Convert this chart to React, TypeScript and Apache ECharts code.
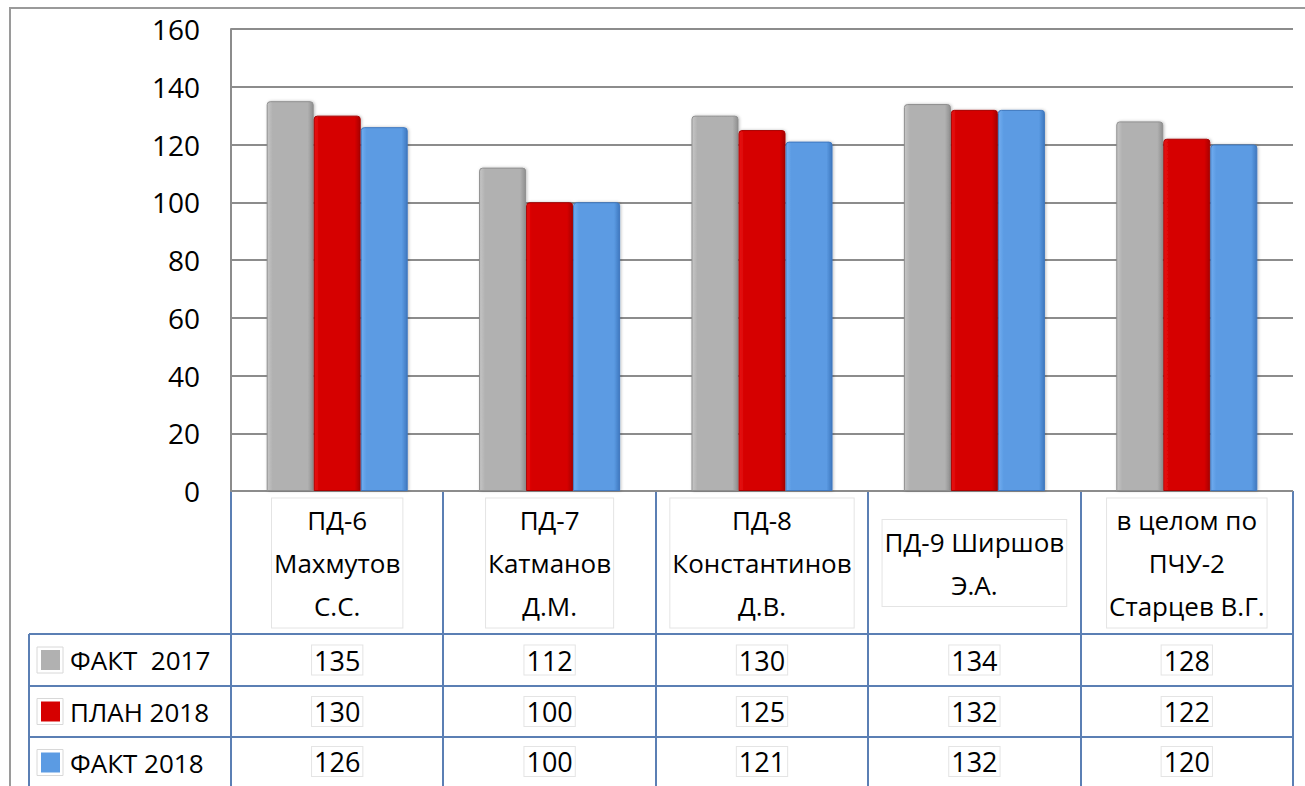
import React, { useEffect, useRef } from "react";
import * as echarts from "echarts";

const categories = [
  "ПД-6\nМахмутов\nС.С.",
  "ПД-7\nКатманов\nД.М.",
  "ПД-8\nКонстантинов\nД.В.",
  "ПД-9 Ширшов\nЭ.А.",
  "в целом по\nПЧУ-2\nСтарцев В.Г.",
];
const seriesNames = ["ФАКТ  2017", "ПЛАН 2018", "ФАКТ 2018"];
const fact2017 = [135, 112, 130, 134, 128];
const plan2018 = [130, 100, 125, 132, 122];
const fact2018 = [126, 100, 121, 132, 120];
const yTicks = { min: 0, max: 160, interval: 20 };

const FONT = "Open Sans";
const W = 1305;
const H = 786;
const L = 231;
const R = 1293;
const T = 29;
const B = 491;
const ROWS = [634, 686, 737, 790];
const TABLE_LEFT = 29;
const TABLE_COLOR = "#5b7fb4";

const seriesData = [fact2017, plan2018, fact2018];

const colors = [
  { a: "#c6c6c6", b: "#b1b1b1", c: "#8f8f8f" },
  { a: "#ea1414", b: "#d60000", c: "#a80000" },
  { a: "#72adf0", b: "#5b9be3", c: "#3f78bf" },
];

function grad(c: { a: string; b: string; c: string }) {
  return new echarts.graphic.LinearGradient(0, 0, 1, 0, [
    { offset: 0, color: c.a },
    { offset: 0.12, color: c.b },
    { offset: 0.88, color: c.b },
    { offset: 1, color: c.c },
  ]);
}

export default function App() {
  const ref = useRef<HTMLDivElement>(null);
  useEffect(() => {
    if (!ref.current) return;
    const chart = echarts.init(ref.current, undefined, { renderer: "svg" });
    const colW = (R - L) / categories.length;
    const graphics: any[] = [];
    graphics.push({
      type: "rect",
      shape: { x: 10, y: 8, width: 1400, height: 900 },
      style: { fill: "none", stroke: "#9a9a9a", lineWidth: 2 },
      silent: true,
    });
    graphics.push({
      type: "line",
      shape: { x1: L, y1: B, x2: R, y2: B },
      style: { stroke: TABLE_COLOR, lineWidth: 2 },
    });
    ROWS.slice(0, 3).forEach((y) => {
      graphics.push({
        type: "line",
        shape: { x1: TABLE_LEFT, y1: y, x2: R, y2: y },
        style: { stroke: TABLE_COLOR, lineWidth: 2 },
      });
    });
    for (let i = 0; i <= categories.length; i++) {
      const x = Math.round(L + i * colW);
      graphics.push({
        type: "line",
        shape: { x1: x, y1: B, x2: x, y2: H + 5 },
        style: { stroke: TABLE_COLOR, lineWidth: 2 },
      });
    }
    graphics.push({
      type: "line",
      shape: { x1: TABLE_LEFT, y1: ROWS[0], x2: TABLE_LEFT, y2: H + 5 },
      style: { stroke: TABLE_COLOR, lineWidth: 2 },
    });
    seriesNames.forEach((name, i) => {
      const cy = (ROWS[i] + Math.min(ROWS[i + 1], H)) / 2 + (i === 2 ? 1 : 0);
      graphics.push({
        type: "rect",
        shape: { x: 37, y: cy - 13, width: 26, height: 26 },
        style: { fill: "#fff", stroke: "#d8d8d8", lineWidth: 1 },
      });
      graphics.push({
        type: "rect",
        shape: { x: 41, y: cy - 10, width: 19, height: 20 },
        style: { fill: colors[i].b },
      });
      graphics.push({
        type: "text",
        x: 70,
        y: cy,
        style: {
          text: name,
          fill: "#000",
          font: `26px "${FONT}"`,
          verticalAlign: "middle",
          align: "left",
        },
      });
    });

    const valueAxes = seriesData.map((vals, i) => ({
      type: "category",
      gridIndex: 0,
      position: "bottom",
      data: categories,
      axisLine: { show: false },
      axisTick: { show: false },
      axisLabel: {
        interval: 0,
        margin: (ROWS[i] + Math.min(ROWS[i + 1], H)) / 2 - B,
        verticalAlign: "middle",
        fontFamily: FONT,
        fontSize: 27,
        color: "#000",
        backgroundColor: "#fff",
        borderColor: "#e4e4e4",
        borderWidth: 1,
        padding: [1, 2, 1, 2],
        formatter: (_v: string, idx: number) => String(vals[idx]),
      },
    }));

    const option: any = {
      animation: false,
      backgroundColor: "#ffffff",
      grid: { left: L, right: W - R, top: T, bottom: H - B, containLabel: false },
      xAxis: [
        {
          type: "category",
          data: categories,
          axisLine: { show: false },
          axisTick: { show: false },
          axisLabel: {
            interval: 0,
            margin: 563 - B,
            verticalAlign: "middle",
            align: "center",
            fontFamily: FONT,
            fontSize: 26,
            lineHeight: 43,
            color: "#000",
            backgroundColor: "#fff",
            borderColor: "#e4e4e4",
            borderWidth: 1,
            padding: [0, 2, 0, 2],
          },
        },
        ...valueAxes,
      ],
      yAxis: {
        type: "value",
        min: yTicks.min,
        max: yTicks.max,
        interval: yTicks.interval,
        axisLine: { show: true, lineStyle: { color: "#8c8c8c", width: 2 } },
        axisTick: { show: false },
        axisLabel: {
          margin: 31,
          fontFamily: FONT,
          fontSize: 28,
          color: "#000",
        },
        splitLine: { show: true, lineStyle: { color: "#8c8c8c", width: 2 } },
      },
      series: seriesData.map((vals, i) => ({
        name: seriesNames[i],
        type: "bar",
        xAxisIndex: 0,
        data: vals,
        barGap: "0%",
        barCategoryGap: "33.6%",
        itemStyle: {
          color: grad(colors[i]),
          borderColor: colors[i].c,
          borderWidth: 1,
          borderRadius: [3, 3, 0, 0],
          shadowColor: "rgba(0,0,0,0.25)",
          shadowBlur: 3,
          shadowOffsetX: 1,
        },
      })),
      graphic: graphics,
    };
    chart.setOption(option);
    return () => chart.dispose();
  }, []);
  return (
    <div
      ref={ref}
      style={{ position: "fixed", left: 0, top: 0, width: W, height: H }}
    />
  );
}
